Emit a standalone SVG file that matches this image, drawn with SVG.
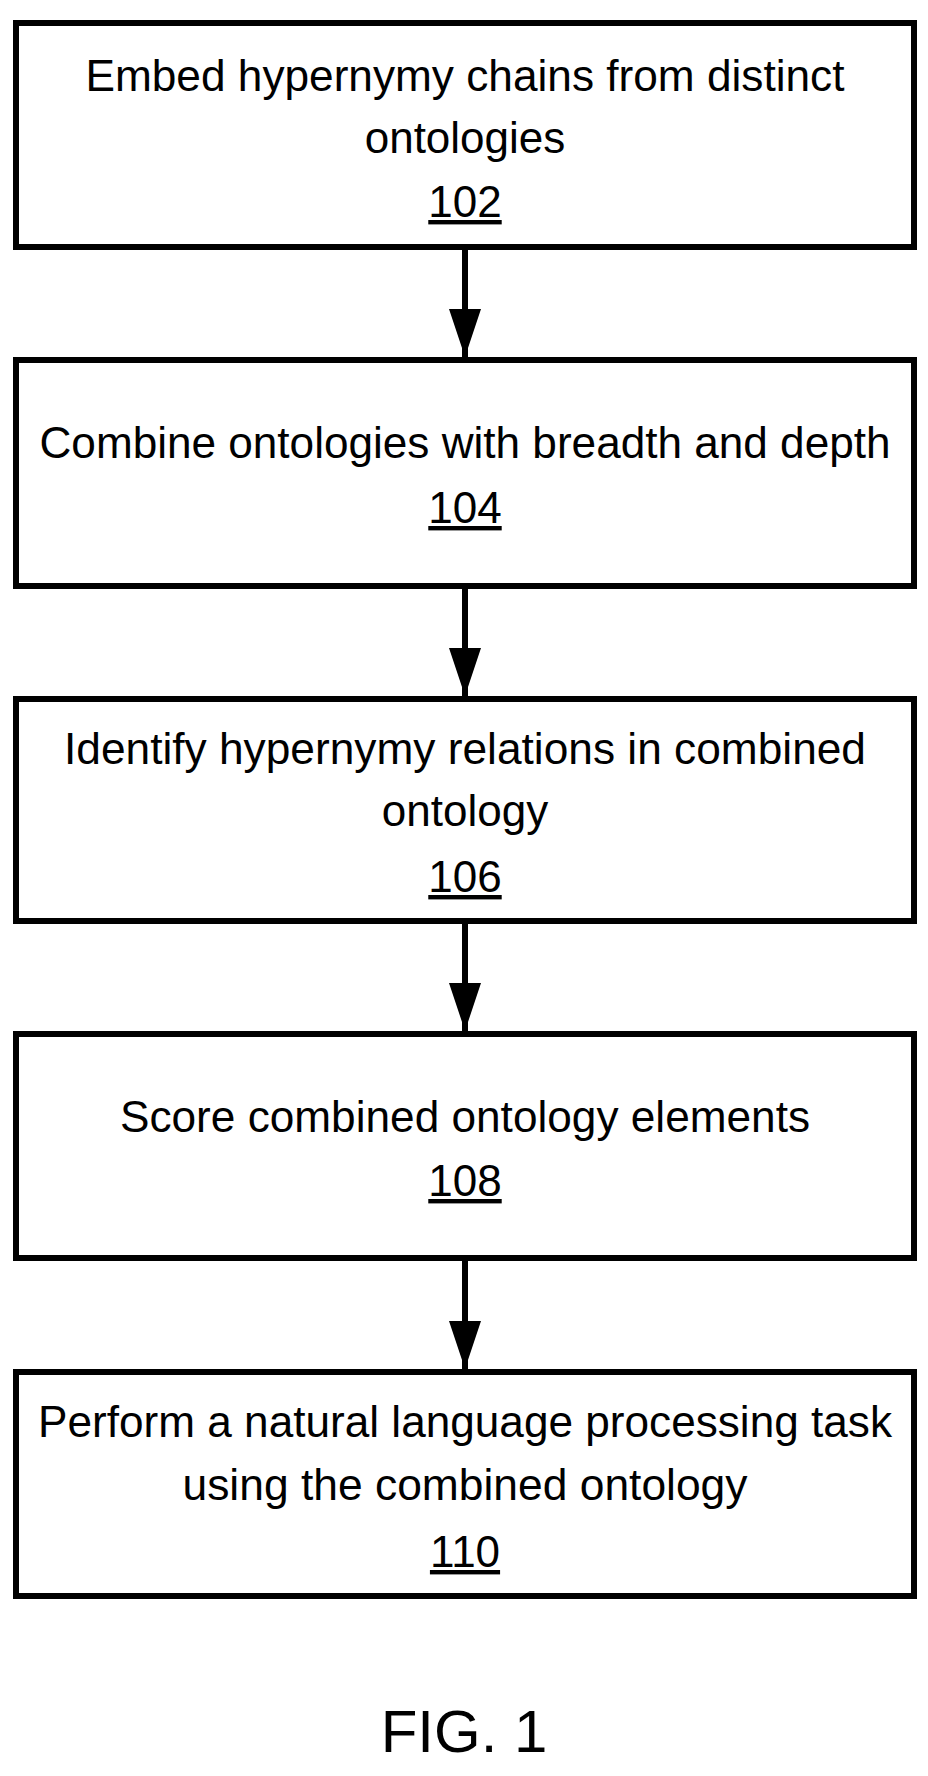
<svg xmlns="http://www.w3.org/2000/svg" width="928" height="1776" viewBox="0 0 928 1776">
<style>
.b{fill:#fff;stroke:#000;stroke-width:6}
text{font-family:"Liberation Sans",Arial,sans-serif;font-size:44px;text-anchor:middle;fill:#000}
.c{stroke:#000;stroke-width:6;fill:none}
</style>
<defs><marker id="a" markerUnits="userSpaceOnUse" markerWidth="48" markerHeight="32" refX="48" refY="16" orient="auto" viewBox="0 0 48 32"><path d="M0,0 L48,16 L0,32 Z" fill="#000"/></marker></defs>
<rect width="928" height="1776" fill="#fff"/>
<g id="n102"><rect class="b" x="16" y="23" width="898" height="224"/>
<text x="465" y="91" textLength="759" lengthAdjust="spacingAndGlyphs">Embed hypernymy chains from distinct</text>
<text x="465" y="153">ontologies</text>
<text x="465" y="217" text-decoration="underline">102</text></g>
<g id="n104"><rect class="b" x="16" y="360" width="898" height="226"/>
<text x="465" y="458" textLength="851" lengthAdjust="spacingAndGlyphs">Combine ontologies with breadth and depth</text>
<text x="465" y="523" text-decoration="underline">104</text></g>
<g id="n106"><rect class="b" x="16" y="699" width="898" height="222"/>
<text x="465" y="764" textLength="802" lengthAdjust="spacingAndGlyphs">Identify hypernymy relations in combined</text>
<text x="465" y="826">ontology</text>
<text x="465" y="892" text-decoration="underline">106</text></g>
<g id="n108"><rect class="b" x="16" y="1034" width="898" height="224"/>
<text x="465" y="1132" textLength="690" lengthAdjust="spacingAndGlyphs">Score combined ontology elements</text>
<text x="465" y="1196" text-decoration="underline">108</text></g>
<g id="n110"><rect class="b" x="16" y="1372" width="898" height="224"/>
<text x="465" y="1437" textLength="854" lengthAdjust="spacingAndGlyphs">Perform a natural language processing task</text>
<text x="465" y="1500" textLength="565" lengthAdjust="spacingAndGlyphs">using the combined ontology</text>
<text x="465" y="1567" text-decoration="underline">110</text></g>
<g id="connectors">
<line class="c" x1="465" y1="250" x2="465" y2="357" marker-end="url(#a)"/>
<line class="c" x1="465" y1="589" x2="465" y2="696" marker-end="url(#a)"/>
<line class="c" x1="465" y1="924" x2="465" y2="1031" marker-end="url(#a)"/>
<line class="c" x1="465" y1="1261" x2="465" y2="1369" marker-end="url(#a)"/>
</g>
<text x="464" y="1752" style="font-size:60px">FIG. 1</text>
</svg>
